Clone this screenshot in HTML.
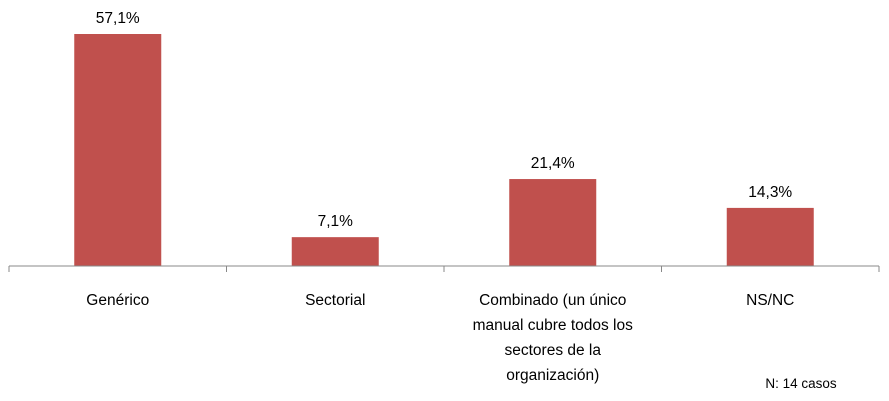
<!DOCTYPE html>
<html><head><meta charset="utf-8"><style>
html,body{margin:0;padding:0;background:#fff;}
svg{display:block;font-family:"Liberation Sans",sans-serif;}
</style></head><body>
<svg id="chart" width="889" height="401">
<g id="bars"></g>
<line x1="9" y1="266" x2="879" y2="266" stroke="#888" stroke-width="1"/>
<g id="ticks"></g>
<g id="cats" font-size="15.5" fill="#000" text-anchor="middle"></g>
<text x="801" y="388" font-size="13.5" text-anchor="middle">N: 14 casos</text>
</svg>
<script>
const categories = [["Genérico"],["Sectorial"],["Combinado (un único","manual cubre todos los","sectores de la","organización)"],["NS/NC"]];
const values = [57.1, 7.1, 21.4, 14.3];
const valueLabels = ["57,1%","7,1%","21,4%","14,3%"];
const NS="http://www.w3.org/2000/svg";
const x0=9, x1=879, base=266, pxPer=4.063, barW=87;
const band=(x1-x0)/categories.length;
const xc=i=>x0+band*(i+0.5);
const y=v=>base-v*pxPer;
const bars=document.getElementById('bars'), ticks=document.getElementById('ticks'), cats=document.getElementById('cats');
for(let i=0;i<=categories.length;i++){
  const t=document.createElementNS(NS,'line');
  const tx=x0+band*i;
  t.setAttribute('x1',tx);t.setAttribute('x2',tx);t.setAttribute('y1',base);t.setAttribute('y2',base+6);
  t.setAttribute('stroke','#888');
  
  
  ticks.appendChild(t);
}
values.forEach((v,i)=>{
  const r=document.createElementNS(NS,'rect');
  r.setAttribute('x',xc(i)-barW/2);r.setAttribute('y',y(v));r.setAttribute('width',barW);r.setAttribute('height',base-y(v));
  r.setAttribute('fill','#c0504d');
  
  
  bars.appendChild(r);
  const l=document.createElementNS(NS,'text');
  l.setAttribute('x',xc(i));l.setAttribute('y',y(v)-11);l.setAttribute('text-anchor','middle');l.setAttribute('font-size','15.5');
  l.textContent=valueLabels[i];
  
  
  bars.appendChild(l);
  categories[i].forEach((line,j)=>{
    const c=document.createElementNS(NS,'text');
    c.setAttribute('x',xc(i));c.setAttribute('y',305+j*25);
    c.textContent=line;
    
    
    cats.appendChild(c);
  });
});
</script>
</body></html>
